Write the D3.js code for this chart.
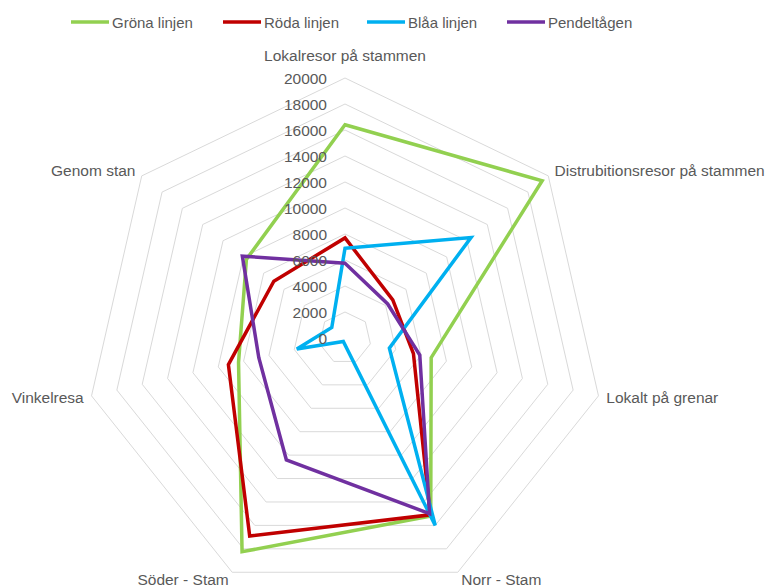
<!DOCTYPE html>
<html>
<head>
<meta charset="utf-8">
<script src="https://cdn.jsdelivr.net/npm/d3@7"></script>
<style>
  html, body { margin: 0; padding: 0; background: #ffffff; }
  svg { display: block; }
  text { font-family: "Liberation Sans", Arial, sans-serif; fill: #595959; }
</style>
</head>
<body>
<svg id="chart" width="771" height="587"></svg>
<script>
// ---- data ----
const categories = ["Lokalresor på stammen", "Distrubitionsresor på stammen", "Lokalt på grenar",
                    "Norr - Stam", "Söder - Stam", "Vinkelresa", "Genom stan"];
const seriesNames = ["Gröna linjen", "Röda linjen", "Blåa linjen", "Pendeltågen"];
const gronaLinjen  = [16400, 19400, 6800, 15200, 18250, 8400, 9700];
const rodaLinjen   = [7700, 4700, 5400, 15100, 16900, 9200, 7000];
const blaaLinjen   = [6900, 12400, 3500, 16000, 300, 3800, 1300];
const pendeltagen  = [5750, 4200, 5900, 15000, 10400, 6800, 10100];
const tickValues   = [0, 2000, 4000, 6000, 8000, 10000, 12000, 14000, 16000, 18000, 20000];
const colors       = ["#92D050", "#C00000", "#00B0F0", "#7030A0"];

const seriesValues = [gronaLinjen, rodaLinjen, blaaLinjen, pendeltagen];

// ---- layout ----
const svg = d3.select("#chart");
const cx = 345, cy = 338, R = 260;
const n = categories.length;
const angle = i => i * 2 * Math.PI / n;
const r = d3.scaleLinear().domain([0, 20000]).range([0, R]);

const g = svg.append("g").attr("transform", `translate(${cx},${cy})`);

// grid rings
const ringLine = d3.lineRadial()
  .angle((d, i) => angle(i))
  .radius(d => r(d))
  .curve(d3.curveLinearClosed);

g.selectAll("path.ring")
  .data(tickValues.filter(v => v > 0))
  .join("path")
  .attr("class", "ring")
  .attr("d", v => ringLine(d3.range(n).map(() => v)))
  .attr("fill", "none")
  .attr("stroke", "#D9D9D9")
  .attr("stroke-width", 1);

// series
const seriesLine = d3.lineRadial()
  .angle((d, i) => angle(i))
  .radius(d => r(d))
  .curve(d3.curveLinearClosed);

g.selectAll("path.series")
  .data(seriesValues)
  .join("path")
  .attr("class", "series")
  .attr("d", d => seriesLine(d))
  .attr("fill", "none")
  .attr("stroke", (d, i) => colors[i])
  .attr("stroke-width", 3.5)
  .attr("stroke-linejoin", "miter");

// tick labels
g.selectAll("text.tick")
  .data(tickValues)
  .join("text")
  .attr("class", "tick")
  .attr("x", -18)
  .attr("y", v => -r(v))
  .attr("text-anchor", "end")
  .attr("dominant-baseline", "central")
  .style("font-size", "15.5px")
  .text(v => v);

// category labels
g.selectAll("text.cat")
  .data(categories)
  .join("text")
  .attr("class", "cat")
  .each(function(d, i) {
    const a = angle(i);
    const s = Math.sin(a), c = Math.cos(a);
    let x = (R + 8) * s, y = -(R + 8) * c;
    let anchor = Math.abs(s) < 0.1 ? "middle" : (s > 0 ? "start" : "end");
    if (Math.abs(s) < 0.1) y -= 15;
    d3.select(this)
      .attr("x", x).attr("y", y)
      .attr("text-anchor", anchor)
      .attr("dominant-baseline", "central");
  })
  .style("font-size", "15.5px")
  .text(d => d);

// legend
const legendX = [71, 223, 367, 507];
const legend = svg.append("g");
const items = legend.selectAll("g.item")
  .data(seriesNames)
  .join("g")
  .attr("class", "item")
  .attr("transform", (d, i) => `translate(${legendX[i]},22)`);
items.append("line")
  .attr("x1", 0).attr("x2", 38).attr("y1", 0).attr("y2", 0)
  .attr("stroke", (d, i) => colors[i])
  .attr("stroke-width", 3.5);
items.append("text")
  .attr("x", 41).attr("y", 0)
  .attr("dominant-baseline", "central")
  .style("font-size", "15px")
  .text(d => d);
</script>
</body>
</html>
